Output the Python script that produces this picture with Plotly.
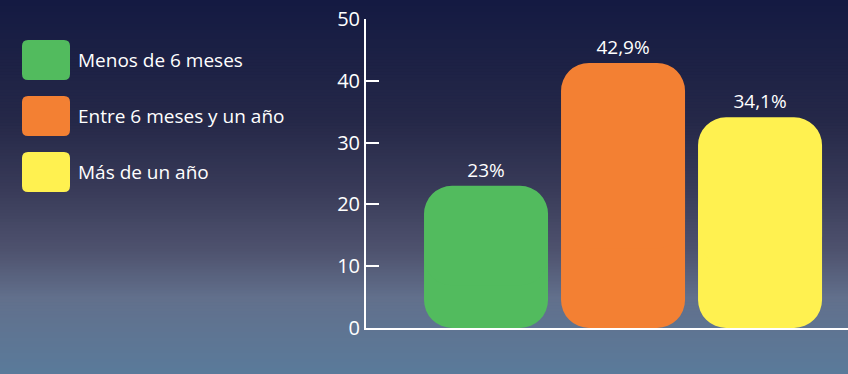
import plotly.graph_objects as go

categories = ["Menos de 6 meses", "Entre 6 meses y un año", "Más de un año"]
values = [23, 42.9, 34.1]
labels = ["23%", "42,9%", "34,1%"]
colors = ["#52bb5e", "#f38033", "#fff150"]
y_ticks = [0, 10, 20, 30, 40, 50]

W, H = 848, 374
fig = go.Figure()

xs = list(range(len(categories)))
RADIUS = 28

# lower part: drawn downward from 70% of value to 0 (rounded at the bottom end)
fig.add_trace(go.Bar(
    x=xs, y=[-0.7 * v for v in values], base=[0.7 * v for v in values],
    marker=dict(color=colors, cornerradius=RADIUS, line=dict(width=0)),
    width=0.905, showlegend=False, hoverinfo="skip",
))
# upper part: from 30% of value up to value (rounded at the top), with labels
fig.add_trace(go.Bar(
    x=xs, y=[0.7 * v for v in values], base=[0.3 * v for v in values],
    marker=dict(color=colors, cornerradius=RADIUS, line=dict(width=0)),
    width=0.905, text=labels, textposition="outside",
    textfont=dict(color="white", size=19, family="Open Sans"),
    cliponaxis=False, showlegend=False,
))

# gradient background
stops = [(0.0, (20, 26, 66)), (0.32, (37, 40, 72)), (0.5, (56, 58, 88)),
         (0.67, (78, 82, 110)), (0.8, (98, 112, 140)), (1.0, (90, 122, 154))]
def col(t):
    for (t0, c0), (t1, c1) in zip(stops, stops[1:]):
        if t0 <= t <= t1:
            f = (t - t0) / (t1 - t0)
            return "rgb(%d,%d,%d)" % tuple(round(a + (b - a) * f) for a, b in zip(c0, c1))
    return "rgb(%d,%d,%d)" % stops[-1][1]
shapes = []
n = 125
for i in range(n):
    t = i / (n - 1)
    y1 = 1 - i / n
    y0 = max(0, 1 - (i + 1) / n - 0.01)
    shapes.append(dict(type="rect", xref="paper", yref="paper", x0=0, x1=1, y0=y0, y1=y1,
                       fillcolor=col(t), line=dict(width=0), layer="below"))

# legend swatches (rounded squares) + labels
annotations = []
def px(x): return x / W
def py(y): return 1 - y / H
for i, (cat, c) in enumerate(zip(categories, colors)):
    cy = 60 + i * 56
    x0, x1 = 22, 70
    y0, y1 = cy - 20, cy + 20
    r = 6
    path = (f"M {px(x0+r)},{py(y0)} L {px(x1-r)},{py(y0)} Q {px(x1)},{py(y0)} {px(x1)},{py(y0+r)} "
            f"L {px(x1)},{py(y1-r)} Q {px(x1)},{py(y1)} {px(x1-r)},{py(y1)} "
            f"L {px(x0+r)},{py(y1)} Q {px(x0)},{py(y1)} {px(x0)},{py(y1-r)} "
            f"L {px(x0)},{py(y0+r)} Q {px(x0)},{py(y0)} {px(x0+r)},{py(y0)} Z")
    shapes.append(dict(type="path", xref="paper", yref="paper", path=path,
                       fillcolor=c, line=dict(width=0), layer="above"))
    annotations.append(dict(xref="paper", yref="paper", x=px(76), y=py(cy), text=cat,
                            showarrow=False, xanchor="left", yanchor="middle",
                            font=dict(color="white", size=19, family="Open Sans")))

fig.update_layout(
    template="none",
    width=W, height=H,
    margin=dict(l=0, r=0, t=0, b=0, pad=0),
    paper_bgcolor="rgba(0,0,0,0)", plot_bgcolor="rgba(0,0,0,0)",
    barmode="overlay",
    shapes=shapes, annotations=annotations,
    font=dict(family="Open Sans", color="white"),
    xaxis=dict(domain=[366 / W, 1], range=[-0.876, 2.642], showgrid=False, zeroline=False,
               automargin=False,
               showline=True, linecolor="white", linewidth=2, showticklabels=False, ticks=""),
    yaxis=dict(domain=[46 / H, 1 - 19 / H], range=[0, 50], tickvals=y_ticks, showgrid=False,
               zeroline=False, automargin=False, showline=True, linecolor="white", linewidth=2,
               ticks="inside", ticklen=13, tickwidth=2, tickcolor="white",
               tickfont=dict(size=20, color="white", family="Open Sans")),
)
fig.write_html("out.html", config={"displayModeBar": False},
               post_script="document.body.style.margin='0';document.body.style.overflow='hidden';")
